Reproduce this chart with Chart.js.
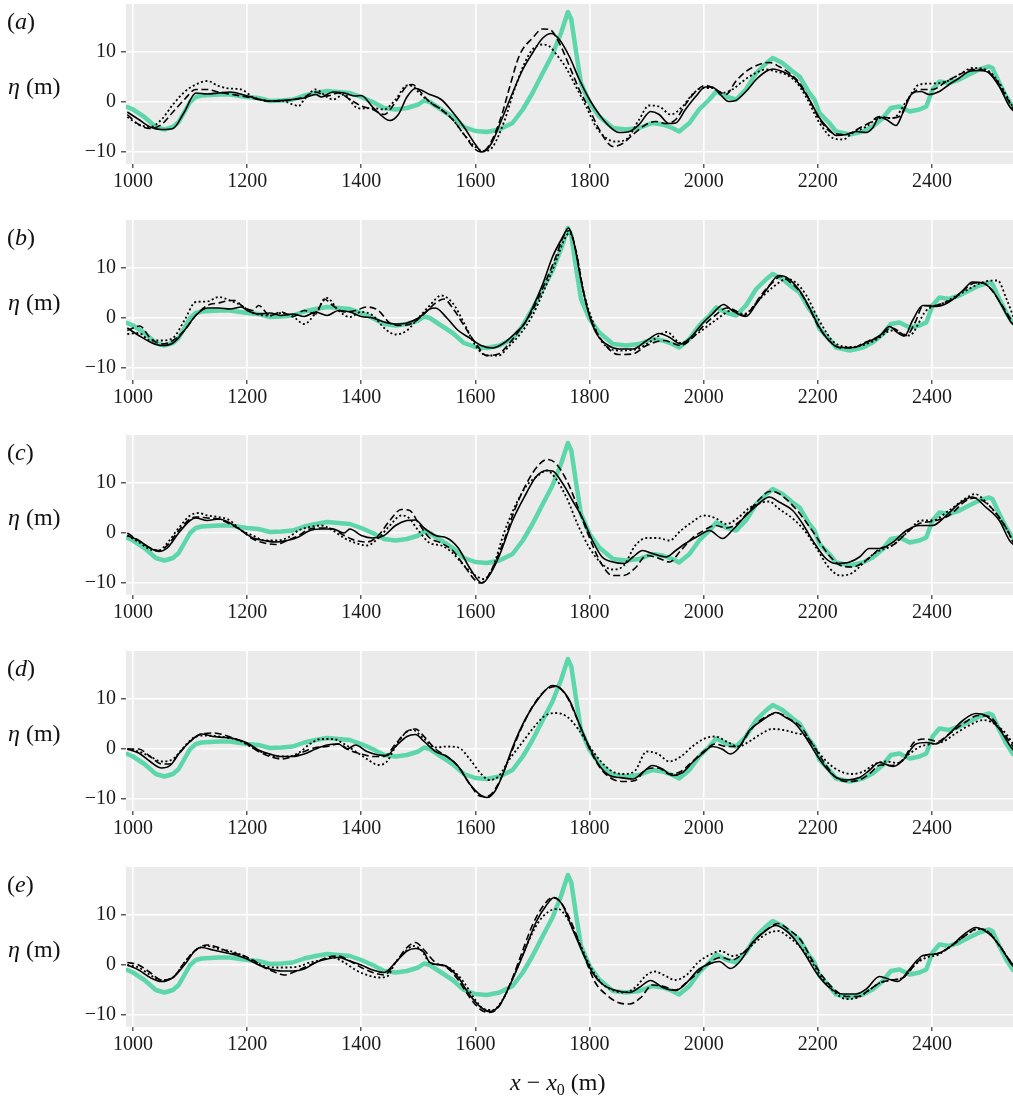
<!DOCTYPE html>
<html><head><meta charset="utf-8">
<script src="https://cdn.jsdelivr.net/npm/chart.js@4/dist/chart.umd.min.js"></script>
<style>
html,body{margin:0;padding:0;background:#fff;}
body{width:1013px;height:1105px;position:relative;overflow:hidden;font-family:"Liberation Serif","Times New Roman",serif;color:#111;}
canvas{position:absolute;left:0;}
.lab{position:absolute;font-size:24px;line-height:28px;white-space:nowrap;}
sub{font-size:16px;vertical-align:-5px;line-height:0;}
</style></head><body>
<script>
// ---------- data (x - x0 in m, eta in m) ----------
const xTicks = [1000,1200,1400,1600,1800,2000,2200,2400];
const yTicks = [-10,0,10];
const panelLabels = ['a','b','c','d','e'];

const measured = [[990,-1],[1000,-1.5],[1020,-3],[1040,-5],[1055,-5.5],[1070,-5],[1080,-4],[1090,-2],[1100,0],[1110,1],[1120,1.3],[1150,1.5],[1170,1.5],[1200,1],[1220,0.8],[1240,0.2],[1260,0.3],[1280,0.5],[1300,1.3],[1320,1.8],[1340,2.2],[1360,2],[1380,1.8],[1400,1],[1420,0],[1440,-1.2],[1460,-1.5],[1480,-1.2],[1500,-0.5],[1510,0.3],[1520,0],[1540,-1.5],[1560,-3],[1580,-5],[1600,-5.8],[1620,-6],[1642,-5.5],[1665,-4.2],[1683,-1.5],[1700,1.8],[1718,5.8],[1735,9.5],[1750,13.8],[1762,18],[1768,16.5],[1776,10.3],[1785,3.8],[1800,-0.2],[1817,-2.9],[1841,-5.2],[1864,-5.5],[1887,-5.2],[1910,-4.2],[1928,-4.5],[1945,-5.2],[1957,-5.9],[1975,-4.2],[1992,-1.5],[2010,0.5],[2022,2.1],[2039,1.1],[2057,0.5],[2074,2.5],[2092,5.8],[2109,7.7],[2121,8.8],[2138,7.8],[2156,6.1],[2168,5.1],[2185,1.8],[2194,0.5],[2203,-2.2],[2220,-4.2],[2232,-5.9],[2256,-6.5],[2279,-5.9],[2296,-4.9],[2314,-3.2],[2328,-1.2],[2343,-0.9],[2361,-1.9],[2378,-1.5],[2390,-0.9],[2401,2.5],[2413,4.1],[2430,3.8],[2448,4.5],[2465,5.5],[2483,6.5],[2500,7.1],[2506,6.8],[2518,3.8],[2530,1.1],[2542,-1]];

const aSolid = [[990,-2],[1010,-3.5],[1030,-5],[1050,-5.5],[1070,-5.3],[1090,-2],[1110,1.8],[1130,1.6],[1150,1.8],[1170,2],[1200,1.2],[1240,0.2],[1280,0.5],[1300,0.8],[1320,1.5],[1330,1],[1350,2],[1370,1.8],[1390,1.2],[1400,1.3],[1420,-1],[1450,-3.7],[1465,-2.5],[1480,1],[1495,2.7],[1520,1.5],[1540,0.5],[1560,-2],[1580,-5],[1600,-8.5],[1612,-10],[1628,-8.3],[1645,-3.8],[1665,1.8],[1683,6.5],[1700,9.8],[1718,12.8],[1733,13.7],[1747,12.5],[1765,9],[1782,4.5],[1800,0.5],[1817,-2.5],[1835,-4.9],[1852,-6.1],[1870,-5.9],[1887,-4.5],[1907,-1.9],[1922,-2.5],[1939,-4.3],[1951,-4.2],[1968,-1.5],[1986,1.1],[2003,3],[2015,3],[2029,1.5],[2044,0.1],[2056,0.3],[2074,2.1],[2092,4.5],[2109,6.1],[2121,6.6],[2138,6.1],[2156,5],[2168,3.5],[2185,0.5],[2203,-3.2],[2220,-5.5],[2232,-6.7],[2250,-6.5],[2267,-5.9],[2285,-6.1],[2296,-5.2],[2308,-3],[2320,-3.5],[2337,-4.7],[2349,-2.2],[2366,1.8],[2381,2.1],[2395,1.5],[2413,2.1],[2430,3.5],[2448,4.8],[2465,6.1],[2483,6.3],[2500,5.8],[2518,3.1],[2536,-0.9],[2545,-2]];
const aDashed = [[990,-2.5],[1010,-4.5],[1030,-5.3],[1050,-4.5],[1070,-2],[1090,0.5],[1110,2.5],[1130,2.5],[1150,2],[1200,1],[1240,0.2],[1280,0.5],[1300,1],[1320,2],[1340,1.2],[1360,1.8],[1380,0.5],[1400,-0.8],[1420,-1.5],[1440,-2.5],[1460,0],[1480,3.2],[1490,3.5],[1500,2.5],[1520,0],[1540,-1.5],[1560,-3.5],[1580,-6.5],[1600,-9.5],[1610,-10],[1625,-8.5],[1645,-3],[1660,3],[1677,9.3],[1700,12.8],[1718,14.6],[1730,14.5],[1747,11.8],[1765,7.1],[1782,2.5],[1800,-1.5],[1817,-5.5],[1841,-8.9],[1858,-8.3],[1876,-6.5],[1899,-4.5],[1916,-3.9],[1934,-4.3],[1951,-3.5],[1968,-0.5],[1986,2.1],[2003,3.3],[2021,2.5],[2039,1.5],[2056,4.1],[2074,6.1],[2097,7.5],[2115,7.9],[2132,7.1],[2150,5.8],[2168,3.8],[2185,0.5],[2203,-3.5],[2226,-6.2],[2250,-6.5],[2273,-5.2],[2290,-4.2],[2308,-2.9],[2326,-3.2],[2343,-2.9],[2361,1.1],[2378,2.5],[2401,2.5],[2425,4.1],[2448,5.5],[2471,6.5],[2494,6.3],[2512,4.5],[2530,1.1],[2545,-2]];
const aDotted = [[990,-3],[1010,-4.5],[1030,-5],[1050,-3.5],[1070,-0.5],[1090,2],[1110,3.5],[1130,4.2],[1150,3.2],[1170,2.7],[1190,2.5],[1210,1],[1240,0.2],[1260,0.3],[1280,-0.5],[1290,-0.8],[1300,0.5],[1320,2.5],[1340,1],[1350,0.5],[1370,1.5],[1390,-1],[1400,-1.3],[1420,-1.2],[1440,-1.5],[1460,0.5],[1480,3.3],[1490,3.2],[1500,2],[1520,0],[1540,-1.5],[1560,-3.5],[1580,-6.5],[1600,-9],[1615,-9.8],[1630,-9],[1650,-4],[1670,3],[1685,7.5],[1700,10.5],[1718,11.5],[1730,11.1],[1742,9.5],[1759,6.8],[1776,3.1],[1794,-0.9],[1811,-4.9],[1829,-7.2],[1846,-7.9],[1864,-7.5],[1887,-3.5],[1904,-0.7],[1922,-0.9],[1942,-2.5],[1963,-0.9],[1980,1.5],[1997,2.8],[2015,2.8],[2032,1.8],[2050,2.5],[2068,4.1],[2086,5.5],[2109,6.5],[2126,6.1],[2144,5.5],[2161,4.1],[2179,1.1],[2203,-4.2],[2226,-7.2],[2244,-7.5],[2261,-6.2],[2285,-4.9],[2308,-3.2],[2332,-3.2],[2355,0.1],[2378,3.5],[2401,3.7],[2425,4.1],[2448,5.5],[2471,6.8],[2494,6.5],[2518,3.8],[2536,0.1],[2545,-1.5]];

const bSolid = [[990,-2],[1010,-3.5],[1030,-4.8],[1050,-5.5],[1070,-5],[1090,-2.5],[1110,0.5],[1130,2],[1150,2],[1170,1.8],[1190,2.2],[1200,1.5],[1220,0.8],[1240,1],[1260,0.5],[1280,0.8],[1300,0.3],[1320,1.2],[1340,0.5],[1360,1.5],[1380,1.2],[1400,0.3],[1420,0],[1440,-0.8],[1460,-1.2],[1480,-1],[1500,0],[1520,1.8],[1530,2],[1550,0],[1570,-2.5],[1590,-4],[1610,-5.5],[1630,-6],[1650,-5],[1670,-3],[1685,-1.3],[1700,2],[1718,6.8],[1735,12.2],[1753,16.2],[1763,18],[1773,14.9],[1785,7.5],[1797,1.5],[1811,-2.9],[1829,-5.2],[1852,-6.2],[1876,-6.2],[1899,-4.6],[1922,-3.1],[1939,-3.8],[1960,-5.2],[1977,-3.9],[1997,-1.2],[2015,0.8],[2035,2.7],[2050,1.5],[2074,0.3],[2092,2.8],[2109,5.5],[2132,8.5],[2144,8.2],[2168,5.5],[2185,2.1],[2203,-1.9],[2220,-4.6],[2238,-5.9],[2261,-5.9],[2285,-4.9],[2308,-3.6],[2326,-1.7],[2337,-2.7],[2352,-3.6],[2366,-0.5],[2384,2.5],[2407,2.3],[2430,3.2],[2454,5.5],[2471,7.2],[2489,7],[2506,5.5],[2524,2.1],[2539,-0.9],[2545,-1.5]];
const bDashed = [[990,-2.5],[1000,-2],[1012,-1.6],[1030,-4],[1050,-5.2],[1070,-4.5],[1090,-2.5],[1110,0.5],[1130,2.5],[1150,3],[1170,3.5],[1180,3.5],[1190,2.5],[1210,1.5],[1220,2.5],[1240,0.5],[1260,1.2],[1280,0.3],[1300,1.5],[1320,0.8],[1335,3.8],[1350,2.5],[1370,1.2],[1390,1.5],[1410,2.2],[1430,1.5],[1450,-1],[1470,-1.5],[1490,-1],[1510,0.8],[1530,3],[1545,3.8],[1560,2],[1580,-1.5],[1600,-5],[1620,-7.5],[1640,-7.2],[1660,-5],[1680,-2],[1700,1.5],[1720,6.5],[1740,12],[1755,16.5],[1765,17.5],[1775,14],[1790,5],[1805,-1],[1825,-5],[1850,-7.3],[1875,-7.2],[1900,-5.5],[1930,-4.5],[1960,-5.5],[1980,-4],[2000,-1.5],[2020,0.5],[2040,2],[2055,1.5],[2070,0.5],[2085,2],[2100,4.5],[2120,7],[2135,8.3],[2150,7.3],[2170,5],[2185,2],[2200,-1.5],[2220,-4.5],[2240,-6],[2260,-6],[2280,-5],[2305,-3.8],[2330,-2],[2355,-3.5],[2370,-1],[2385,2.5],[2405,2.5],[2420,3],[2440,4],[2460,6],[2475,7],[2490,7],[2505,5.5],[2520,3],[2545,-1.5]];
const bDotted = [[990,-3.2],[1010,-3],[1030,-4.5],[1050,-4.5],[1070,-4],[1090,-0.5],[1110,3.2],[1130,3.3],[1150,4.2],[1170,3.5],[1190,2.5],[1210,1],[1240,0.5],[1260,1],[1280,0.3],[1300,-1.2],[1320,1],[1340,4],[1360,1.5],[1380,0.2],[1400,1.2],[1420,0.5],[1440,-2],[1460,-3.3],[1480,-2.5],[1500,0],[1520,2.5],[1540,4.5],[1560,3],[1580,-1],[1600,-5.5],[1620,-7.5],[1640,-7.5],[1660,-5.5],[1680,-3],[1700,0.5],[1720,5.5],[1740,11],[1755,15.5],[1765,17],[1775,14],[1790,5],[1805,-0.5],[1820,-4.5],[1850,-6.5],[1880,-6.3],[1910,-4.5],[1935,-2.8],[1960,-5],[1990,-3],[2020,-0.5],[2050,1.5],[2070,0.8],[2100,4],[2125,6.5],[2145,7.8],[2160,7.2],[2180,4.5],[2200,0],[2230,-5],[2260,-5.8],[2300,-4.5],[2330,-2.5],[2360,-3.5],[2390,1.5],[2420,3],[2460,5.5],[2490,7.2],[2515,7.5],[2530,4],[2545,-0.5]];

const cSolid = [[990,-0.5],[1010,-1.5],[1030,-3],[1045,-3.7],[1060,-3],[1080,0],[1100,2.5],[1110,3],[1130,2.5],[1150,2.8],[1170,2],[1190,0.5],[1210,-1],[1230,-1.5],[1250,-1.8],[1270,-1.5],[1290,-0.8],[1310,0.5],[1330,0.8],[1350,0.8],[1370,0],[1380,0.8],[1400,-0.5],[1420,-1],[1440,-0.5],[1460,1.5],[1480,2.5],[1495,2.6],[1510,1],[1530,-0.5],[1550,-1],[1570,-3],[1590,-7],[1612,-10],[1627,-8],[1642,-4.5],[1665,2.5],[1689,7.9],[1706,11.2],[1724,12.5],[1735,12.4],[1753,9.9],[1770,6.5],[1788,2.9],[1805,-1.5],[1822,-4.8],[1841,-5.8],[1861,-6.1],[1876,-4.8],[1893,-3.5],[1910,-4.1],[1934,-4.8],[1951,-3.5],[1968,-2.1],[1992,-0.5],[2010,0.5],[2033,-1.1],[2050,0.5],[2074,3.5],[2097,5.9],[2115,7.2],[2132,6.2],[2156,4.5],[2173,1.9],[2191,-1.5],[2214,-5.1],[2232,-6.1],[2256,-5.8],[2273,-4.8],[2290,-3.1],[2308,-3.1],[2332,-1.8],[2355,0.5],[2378,1.5],[2401,1.5],[2425,3.5],[2448,5.9],[2471,7.2],[2494,5.2],[2518,2.5],[2536,-1.5],[2545,-2.5]];
const cDashed = [[990,0],[1010,-1.5],[1030,-3],[1045,-3.5],[1060,-2.5],[1080,0.5],[1100,2.8],[1110,3.2],[1130,3],[1150,2.8],[1170,1.8],[1190,0.5],[1210,-1.2],[1230,-2],[1250,-2.3],[1270,-1.5],[1290,-0.5],[1310,0.8],[1330,1],[1350,0.8],[1370,-0.5],[1390,-1.5],[1410,-1.8],[1430,-0.5],[1450,2.5],[1470,4.7],[1485,4.5],[1500,2],[1520,-1],[1540,-2],[1560,-3.5],[1580,-6.5],[1600,-9.5],[1610,-10],[1630,-7],[1650,-1.5],[1670,5],[1690,10],[1710,13.5],[1725,14.7],[1740,14],[1760,10.5],[1780,5],[1800,-1],[1820,-6],[1840,-8.5],[1860,-8.5],[1880,-7],[1900,-4.5],[1920,-5],[1940,-5.8],[1960,-3.5],[1980,-1],[2000,0.5],[2020,1.5],[2040,1],[2060,2],[2080,4.5],[2100,7],[2115,8.3],[2130,8],[2160,5],[2190,0.5],[2220,-4.5],[2240,-6.5],[2260,-6.8],[2290,-5],[2310,-3],[2330,-2.5],[2360,0.5],[2380,2],[2400,2.3],[2430,3.5],[2460,6.5],[2475,7],[2500,5.5],[2530,1],[2545,-2.5]];
const cDotted = [[990,-0.5],[1010,-1.8],[1030,-3.3],[1045,-3.5],[1060,-2],[1080,1],[1100,3.5],[1115,4],[1130,3.5],[1150,3.2],[1170,2.5],[1190,0.5],[1210,-0.5],[1230,-1.5],[1250,-1.5],[1270,-1],[1290,0.5],[1310,1.2],[1330,1.5],[1350,0.5],[1370,-1],[1390,-2],[1410,-2.5],[1430,-1],[1450,1.5],[1470,3.5],[1480,3.3],[1500,0.5],[1520,-2],[1540,-2.5],[1560,-4],[1580,-6.5],[1600,-8.5],[1615,-9.2],[1630,-7],[1650,0],[1670,5.5],[1690,9.5],[1710,11.5],[1725,12.5],[1740,11],[1760,7],[1780,1.5],[1800,-3],[1820,-6],[1840,-7.3],[1860,-6.5],[1880,-2.5],[1900,-1],[1920,-1],[1940,-1.5],[1960,0.5],[1980,2.2],[2000,3.5],[2020,3],[2040,1.8],[2060,3],[2080,5],[2100,6],[2115,6.3],[2130,5],[2160,2.5],[2180,0],[2200,-3.5],[2220,-7],[2240,-8.5],[2260,-8],[2280,-6],[2300,-4],[2330,-2.5],[2360,0.5],[2380,2.5],[2400,2.5],[2430,4.5],[2460,7],[2475,7.8],[2500,5.5],[2530,1],[2545,-2.5]];

const dSolid = [[990,0],[1010,-0.8],[1030,-2.5],[1050,-3.8],[1065,-3.3],[1080,-1],[1100,1.5],[1120,3],[1140,2.5],[1160,2.3],[1180,2],[1200,1.2],[1220,-0.2],[1240,-1],[1260,-1.5],[1280,-1.5],[1300,-1],[1320,0],[1340,0.8],[1360,1],[1375,0],[1390,0.8],[1410,-0.5],[1430,-1.2],[1445,-1.3],[1460,0.5],[1480,2.5],[1495,2.9],[1510,1.5],[1530,-0.5],[1550,-1.5],[1570,-3.5],[1590,-7],[1610,-9.3],[1620,-9.7],[1635,-8.3],[1650,-4.5],[1665,0.3],[1689,6.3],[1712,10.3],[1735,12.7],[1747,12.3],[1765,9.7],[1782,5],[1800,0.3],[1817,-3.3],[1835,-5.3],[1852,-5.7],[1876,-6],[1893,-4.7],[1910,-3.3],[1928,-4],[1945,-5.3],[1963,-4.7],[1980,-2.7],[1997,-1],[2015,0.5],[2032,0],[2047,-1],[2062,0.3],[2080,3.7],[2097,5.3],[2115,6.7],[2126,7.3],[2144,6.3],[2161,5],[2179,2.3],[2197,-1],[2214,-3.7],[2232,-5.7],[2250,-6.2],[2273,-5.7],[2290,-4.3],[2308,-2.7],[2332,-3.5],[2349,-2.3],[2372,1],[2390,1.3],[2407,1],[2430,3],[2454,5.7],[2477,7.1],[2494,6.7],[2518,4],[2539,0.3],[2545,-0.5]];
const dDashed = [[990,0],[1010,0],[1030,-1.5],[1050,-3],[1065,-3],[1080,-1],[1100,1.5],[1120,3],[1140,3.2],[1160,2.8],[1180,2],[1200,1],[1220,-0.5],[1240,-1.5],[1260,-2],[1280,-1.5],[1300,-0.5],[1320,0.3],[1340,0.5],[1360,1],[1380,-0.3],[1400,-1],[1420,-1.5],[1440,-1.5],[1460,1],[1480,3.5],[1495,4],[1510,2.5],[1530,0],[1550,-1.5],[1570,-3.5],[1590,-7],[1610,-9.5],[1620,-9.5],[1640,-7],[1660,-1.5],[1680,4],[1700,8.5],[1720,11.5],[1740,12.5],[1760,10.5],[1780,5.5],[1800,0],[1820,-4],[1840,-6],[1860,-6.5],[1880,-6.3],[1900,-4],[1920,-3.8],[1940,-5],[1960,-4.5],[1980,-2.5],[2000,-0.5],[2020,1],[2040,0.5],[2060,0.5],[2080,3.5],[2100,5.8],[2120,7],[2130,7.2],[2150,6],[2170,4.5],[2190,1],[2210,-2.5],[2230,-5.5],[2250,-6.5],[2270,-6.3],[2290,-5],[2310,-3.2],[2330,-3.3],[2350,-2],[2370,1.5],[2390,2],[2410,1.5],[2430,3],[2460,5.5],[2480,6.7],[2500,6.5],[2520,4],[2545,0]];
const dDotted = [[990,0],[1010,-0.5],[1030,-1.5],[1050,-2.5],[1070,-2],[1090,0.5],[1110,2.5],[1130,2.7],[1150,2.5],[1170,2.2],[1190,1.5],[1210,0.2],[1230,-0.8],[1250,-1.5],[1270,-1.5],[1290,-0.8],[1310,1],[1330,2],[1350,2],[1370,1],[1390,-0.5],[1410,-2],[1430,-3.2],[1445,-2.5],[1460,0.5],[1480,3.5],[1490,3.8],[1510,2],[1530,0.3],[1550,0.5],[1570,0.3],[1590,-2],[1610,-5],[1625,-6.2],[1640,-5.5],[1660,-2],[1680,1],[1700,4],[1720,6.5],[1740,7.2],[1760,6.5],[1780,4],[1800,0.5],[1820,-2.5],[1840,-4.5],[1860,-5],[1880,-4.3],[1900,-0.5],[1920,-1],[1940,-2.5],[1960,-1.5],[1980,0.5],[2000,2],[2020,2.5],[2040,1.5],[2060,0.5],[2080,1.5],[2100,3],[2120,4],[2140,3.8],[2160,3.2],[2180,2.5],[2200,-0.5],[2220,-3],[2240,-4.5],[2260,-5],[2280,-4.5],[2300,-3],[2320,-2.5],[2340,-2.8],[2360,-1],[2380,0.5],[2400,1],[2420,1.5],[2440,3],[2470,5],[2490,5.8],[2510,5],[2530,3],[2545,0.5]];

const eSolid = [[990,0],[1010,-1],[1030,-2.5],[1050,-3.3],[1070,-2.5],[1090,0],[1110,3],[1120,3.5],[1140,3],[1160,2.5],[1180,2],[1200,1.2],[1220,0],[1240,-0.8],[1260,-1.2],[1280,-1.2],[1300,-0.8],[1320,0.5],[1340,1.2],[1360,1.5],[1380,0.8],[1400,0],[1420,-1],[1440,-1.5],[1460,0.5],[1480,2.8],[1495,3.3],[1510,2.5],[1520,0.5],[1540,0],[1550,-0.3],[1570,-2.5],[1590,-6],[1610,-8.5],[1625,-9.3],[1642,-8.1],[1660,-4.1],[1683,1.9],[1706,8.5],[1724,11.9],[1738,13.5],[1753,11.9],[1770,7.2],[1788,2.5],[1805,-1.5],[1822,-3.8],[1846,-5.1],[1870,-5.5],[1887,-4.5],[1907,-3.1],[1928,-4.5],[1951,-5.1],[1968,-3.8],[1992,-0.8],[2010,0.2],[2027,0.7],[2047,-0.7],[2062,0.5],[2086,4.5],[2109,6.9],[2126,7.9],[2144,6.9],[2161,4.9],[2179,1.9],[2197,-1.5],[2220,-4.5],[2244,-5.8],[2267,-5.8],[2285,-4.8],[2308,-2.3],[2326,-2.9],[2340,-3.3],[2361,-0.8],[2384,1.9],[2407,2.2],[2430,3.5],[2454,5.9],[2477,7.5],[2500,6.2],[2521,3.5],[2539,0.2],[2545,-0.5]];
const eDashed = [[990,0.5],[1010,0],[1030,-1.5],[1050,-3],[1070,-2.5],[1090,0.5],[1110,3],[1130,4],[1150,3.5],[1170,2.5],[1190,2],[1210,1],[1230,-0.5],[1250,-1.5],[1265,-2],[1280,-1.5],[1300,-0.5],[1320,0.5],[1340,1.5],[1360,1.8],[1380,0.8],[1400,-0.5],[1420,-1.5],[1440,-2],[1460,0.5],[1480,3.5],[1495,4.5],[1510,3],[1530,0.5],[1550,-0.5],[1570,-3],[1590,-6.5],[1610,-9],[1625,-9.5],[1640,-8.5],[1660,-4],[1680,2],[1700,8],[1720,12],[1735,13.5],[1750,12.5],[1770,8],[1790,2],[1810,-3.5],[1830,-6],[1850,-7.5],[1870,-7.8],[1890,-6.5],[1910,-4],[1930,-4.3],[1950,-5],[1970,-3.5],[1990,-1.5],[2010,0.5],[2030,1.5],[2050,1],[2070,2.5],[2090,5],[2110,7],[2130,8.3],[2150,7],[2170,5],[2190,1],[2210,-2.5],[2230,-5],[2250,-6.3],[2270,-6.3],[2290,-5],[2310,-3.5],[2330,-3],[2350,-2.5],[2370,0],[2390,2],[2410,2.3],[2430,3.5],[2460,6],[2480,7.3],[2500,6.5],[2520,3.5],[2545,-0.5]];
const eDotted = [[990,0],[1010,-0.5],[1030,-2],[1050,-3],[1070,-2.5],[1090,0.5],[1110,3],[1130,3.8],[1150,3.2],[1170,2.8],[1190,2],[1210,0.8],[1230,-0.2],[1250,-0.5],[1270,-0.5],[1290,-0.3],[1310,0.5],[1330,1],[1350,1.5],[1370,0.5],[1390,-1],[1410,-2],[1430,-2.5],[1445,-2.3],[1460,0.5],[1480,3],[1490,3.8],[1505,3],[1520,0.5],[1540,0],[1560,-1],[1580,-3.5],[1600,-7],[1615,-8.8],[1630,-9],[1650,-6.5],[1670,-1.5],[1690,4],[1710,8.5],[1730,10.8],[1745,11.2],[1760,9.5],[1780,5],[1800,0],[1820,-3.5],[1840,-5],[1860,-5.5],[1880,-4.5],[1900,-2],[1915,-1.3],[1930,-2],[1950,-3],[1970,-2],[1990,0.5],[2010,2],[2030,2.8],[2050,1.8],[2070,2.5],[2090,4.5],[2110,6.2],[2130,6.8],[2150,5.5],[2170,3.5],[2190,0.5],[2210,-3],[2230,-5.5],[2250,-6.8],[2270,-6.5],[2290,-5],[2310,-3.5],[2330,-3],[2350,-2.5],[2370,0],[2390,1.5],[2410,2],[2430,3.5],[2460,6],[2480,7.2],[2500,6.5],[2520,3.5],[2545,-0.5]];

const panels = [
  [aSolid, aDashed, aDotted],
  [bSolid, bDashed, bDotted],
  [cSolid, cDashed, cDotted],
  [dSolid, dDashed, dDotted],
  [eSolid, eDashed, eDotted]
];

// ---------- layout ----------
const panelTops = [4, 220, 435, 651, 867];
const CW = 1013, CH = 216, PADTOP = 4, XAXIS_H = 52, YAXIS_W = 126;
const X_MIN = 987.7, X_MAX = 2542, Y_MIN = -12.4, Y_MAX = 19.6;
const GREEN = '#5dd6aa', BG = '#ebebeb';

const bgPlugin = {
  id: 'panelBg',
  beforeDraw(chart) {
    const {ctx, chartArea: a} = chart;
    ctx.save();
    ctx.fillStyle = BG;
    ctx.fillRect(a.left, a.top, a.right - a.left, a.bottom - a.top);
    ctx.restore();
  }
};

const toPts = arr => arr.map(p => ({x: p[0], y: p[1]}));
const fmtY = v => v < 0 ? '\u2212' + Math.abs(v) : String(v);
const fmtX = v => String(v);
const noPad = s => { s.paddingTop = 0; s.paddingBottom = 0; s.paddingLeft = 0; s.paddingRight = 0; };
const tickFont = {family: 'Liberation Serif', size: 20};

panels.forEach((series, i) => {
  const top = panelTops[i] - PADTOP;
  const cv = document.createElement('canvas');
  cv.width = CW; cv.height = CH;
  cv.style.top = top + 'px';
  cv.style.width = CW + 'px'; cv.style.height = CH + 'px';
  document.body.appendChild(cv);

  const styles = [
    {dash: [], w: 1.6},
    {dash: [7, 3.5], w: 1.6},
    {dash: [2, 2.5], w: 1.8}
  ];
  const datasets = [{
    data: toPts(measured), borderColor: GREEN, borderWidth: 4.5,
    tension: 0, order: 10, pointRadius: 0, borderJoinStyle: 'round', borderCapStyle: 'round'
  }];
  series.forEach((s, k) => datasets.push({
    data: toPts(s), borderColor: '#000', borderWidth: styles[k].w,
    borderDash: styles[k].dash, cubicInterpolationMode: 'monotone',
    order: 3 - k, pointRadius: 0
  }));

  new Chart(cv, {
    type: 'line',
    data: {datasets},
    options: {
      responsive: false, animation: false, devicePixelRatio: 1,
      layout: {padding: {top: PADTOP, left: 0, right: 0, bottom: 0}},
      plugins: {legend: {display: false}, tooltip: {enabled: false}},
      scales: {
        x: {
          type: 'linear', min: X_MIN, max: X_MAX,
          afterBuildTicks: s => { s.ticks = xTicks.map(v => ({value: v})); },
          afterFit: s => { s.height = XAXIS_H; noPad(s); },
          grid: {color: '#fff', lineWidth: 1.6, drawTicks: true, tickLength: 4, tickColor: '#333', tickWidth: 1.2},
          border: {display: false},
          ticks: {color: '#1a1a1a', padding: 2, font: tickFont, maxRotation: 0, autoSkip: false, callback: fmtX}
        },
        y: {
          type: 'linear', min: Y_MIN, max: Y_MAX,
          afterBuildTicks: s => { s.ticks = yTicks.map(v => ({value: v})); },
          afterFit: s => { s.width = YAXIS_W; noPad(s); },
          grid: {color: '#fff', lineWidth: 1.6, drawTicks: true, tickLength: 5, tickColor: '#333', tickWidth: 1.2},
          border: {display: false},
          ticks: {color: '#1a1a1a', padding: 5, font: tickFont, callback: fmtY}
        }
      }
    },
    plugins: [bgPlugin]
  });

  const pl = document.createElement('div');
  pl.className = 'lab';
  pl.style.left = '7px'; pl.style.top = (panelTops[i] + 3) + 'px';
  pl.innerHTML = '(<i>' + panelLabels[i] + '</i>)';
  document.body.appendChild(pl);

  const yl = document.createElement('div');
  yl.className = 'lab';
  yl.style.left = '8px'; yl.style.top = (panelTops[i] + 68) + 'px';
  yl.innerHTML = '<i>\u03B7</i> (m)';
  document.body.appendChild(yl);
});

const xt = document.createElement('div');
xt.className = 'lab';
xt.style.left = '510px'; xt.style.top = '1068px';
xt.innerHTML = '<i>x</i> \u2212 <i>x</i><sub>0</sub> (m)';
document.body.appendChild(xt);
</script>
</body></html>
